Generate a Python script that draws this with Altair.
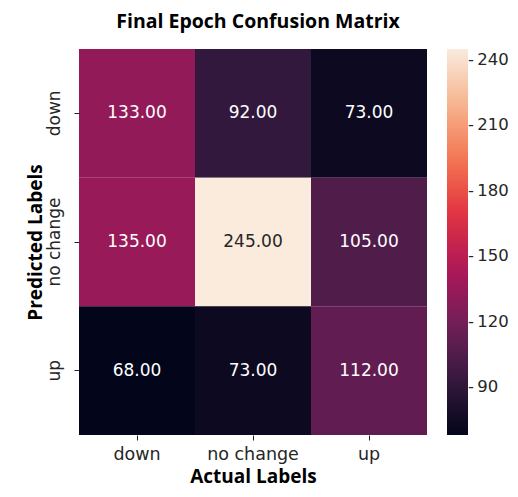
import altair as alt
import pandas as pd

labels = ["down", "no change", "up"]
# rows = predicted label, columns = actual label
row_down = [133, 92, 73]
row_nochange = [135, 245, 105]
row_up = [68, 73, 112]
matrix = [row_down, row_nochange, row_up]

colorbar_ticks = [90, 120, 150, 180, 210, 240]
rocket = ["#03051a", "#35193e", "#701f57", "#ad1759", "#e13342", "#f37651", "#f6b48f", "#faebdd"]

records = []
for i, pred in enumerate(labels):
    for j, act in enumerate(labels):
        records.append({"Predicted": pred, "Actual": act, "value": matrix[i][j]})
df = pd.DataFrame(records)
vmin = int(df["value"].min())
vmax = int(df["value"].max())

base = alt.Chart(df)

heat = base.mark_rect().encode(
    x=alt.X("Actual:N", sort=labels, title="Actual Labels",
            axis=alt.Axis(labelAngle=0, domain=False, tickSize=5, tickColor="#222222",
                          labelFont="DejaVu Sans", labelFontSize=17.5, labelColor="#262626",
                          labelPadding=5, titleFont="Open Sans", titleFontSize=19,
                          titleFontWeight="bold", titleColor="#000000", titlePadding=5)),
    y=alt.Y("Predicted:N", sort=labels, title="Predicted Labels",
            axis=alt.Axis(labelAngle=270, labelAlign="center", labelBaseline="bottom",
                          domain=False, tickSize=5, tickColor="#222222",
                          labelFont="DejaVu Sans", labelFontSize=17, labelColor="#262626",
                          labelPadding=11, titleFont="Open Sans", titleFontSize=19,
                          titleFontWeight="bold", titleColor="#000000", titlePadding=0)),
    color=alt.Color("value:Q",
                    scale=alt.Scale(domain=[vmin, vmax], range=rocket, interpolate="rgb"),
                    legend=alt.Legend(title=None, orient="right", offset=20,
                                      direction="vertical",
                                      gradientLength=386, gradientThickness=21,
                                      gradientStrokeWidth=0, values=colorbar_ticks,
                                      labelFont="DejaVu Sans", labelFontSize=16.5,
                                      labelColor="#262626", labelOffset=0, padding=0,
                                      labelExpr="'-\u2009' + datum.label")),
)

text = base.mark_text(font="DejaVu Sans", fontSize=17).encode(
    x=alt.X("Actual:N", sort=labels),
    y=alt.Y("Predicted:N", sort=labels),
    text=alt.Text("value:Q", format=".2f"),
    color=alt.condition("datum.value > 200", alt.value("#262626"), alt.value("#ffffff")),
)

chart = alt.layer(heat, text).properties(
    width=348,
    height=386,
    autosize=alt.AutoSizeParams(type="none"),
    padding={"left": 71, "top": 41, "right": 83, "bottom": 54},
    title=alt.Title("Final Epoch Confusion Matrix", font="Open Sans", fontSize=19.5,
                    fontWeight="bold", color="#000000", anchor="middle", offset=17, dx=5),
).configure_view(stroke=None)

chart.save("out.html", embed_options={"renderer": "svg", "actions": False})
